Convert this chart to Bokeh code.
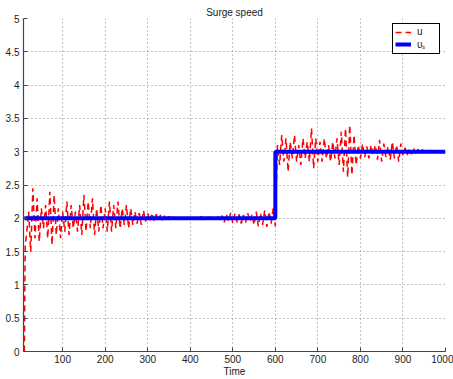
from bokeh.plotting import figure
from bokeh.models import Range1d, FixedTicker, Legend, LegendItem
from bokeh.embed import file_html
from bokeh.resources import INLINE

# ---- data ----
time = [10, 12] + list(range(15, 1001, 5))
u = [
    0.00, 1.60,
    # 15..100
    1.75, 2.10, 1.50, 2.45, 1.70, 2.30, 1.65, 2.15, 1.85, 2.20,
    1.70, 2.40, 1.60, 2.35, 1.75, 2.15, 1.70, 2.10,
    # 105..200
    1.80, 2.25, 1.75, 2.20, 1.85, 2.10, 1.80, 2.20, 1.75, 2.35,
    1.80, 2.25, 1.85, 2.30, 1.75, 2.15, 1.80, 2.20, 1.85, 2.15,
    # 205..300
    1.80, 2.25, 1.80, 2.20, 1.85, 2.25, 1.85, 2.15, 1.90, 2.20,
    1.85, 2.15, 1.90, 2.10, 1.92, 2.08, 1.90, 2.12, 1.95, 2.08,
    # 305..400
    1.95, 2.08, 1.96, 2.06, 1.97, 2.05, 1.97, 2.04, 1.98, 2.03,
    1.99, 2.02, 1.99, 2.01, 2.00, 2.01, 2.00, 2.00, 2.00, 2.00,
    # 405..500
    2.00, 2.00, 2.00, 2.00, 2.03, 1.98, 2.02, 1.98, 2.02, 2.00,
    2.01, 1.99, 2.02, 1.97, 2.04, 1.94, 2.06, 1.95, 2.08, 1.93,
    # 505..600
    2.07, 1.94, 2.06, 1.92, 2.05, 1.93, 2.08, 1.95, 2.06, 1.90,
    2.10, 1.88, 2.08, 1.90, 2.12, 1.87, 2.10, 1.92, 2.15, 1.88,
    # 605..700
    3.10, 2.80, 3.25, 2.85, 3.20, 2.70, 3.15, 2.90, 3.25, 2.85,
    3.10, 2.80, 3.20, 2.90, 3.15, 2.85, 3.35, 2.75, 3.20, 2.85,
    # 705..800
    3.15, 2.85, 3.20, 2.90, 3.10, 2.85, 3.15, 2.90, 3.20, 2.80,
    3.30, 2.70, 3.35, 2.62, 3.40, 2.65, 3.25, 2.80, 3.10, 2.90,
    # 805..900
    3.12, 2.92, 3.08, 2.90, 3.10, 2.95, 3.10, 2.88, 3.18, 2.85,
    3.12, 2.92, 3.08, 2.88, 3.15, 2.90, 3.10, 2.85, 3.12, 2.95,
    # 905..1000
    3.06, 2.95, 3.05, 2.96, 3.05, 2.97, 3.04, 2.98, 3.04, 2.98,
    3.02, 2.99, 3.02, 3.00, 3.01, 3.00, 3.01, 3.00, 3.01, 3.00,
]
vs_time = [10, 600, 600, 1000]
vs = [2, 2, 3, 3]
x_ticks = [100, 200, 300, 400, 500, 600, 700, 800, 900, 1000]
y_ticks = [0, 0.5, 1, 1.5, 2, 2.5, 3, 3.5, 4, 4.5, 5]

FONT = "Liberation Sans"

p = figure(width=453, height=379, output_backend="svg", toolbar_location=None,
           x_range=Range1d(8, 1000), y_range=Range1d(0, 5),
           title="Surge speed",
           min_border_left=23, min_border_right=8,
           min_border_top=18, min_border_bottom=28)

p.title.align = "center"
p.title.text_font = FONT
p.title.text_font_size = "10px"
p.title.text_font_style = "normal"
p.title.text_color = "#222222"
p.title.standoff = 1
p.title.offset = 0
p.outline_line_color = None
p.background_fill_color = "white"

p.xaxis.ticker = FixedTicker(ticks=x_ticks)
p.yaxis.ticker = FixedTicker(ticks=y_ticks)
for ax in (p.xaxis, p.yaxis):
    ax.major_tick_in = 4
    ax.major_tick_out = 0
    ax.minor_tick_in = 0
    ax.minor_tick_out = 0
    ax.major_label_text_font = FONT
    ax.major_label_text_font_size = "10px"
    ax.major_label_text_color = "#222222"
    ax.axis_line_color = "#444444"
    ax.axis_line_width = 1.2
    ax.major_tick_line_color = "#444444"
p.xaxis.major_label_standoff = 3
p.yaxis.major_label_standoff = 4
p.xaxis.axis_label = "Time"
p.xaxis.axis_label_text_font = FONT
p.xaxis.axis_label_text_font_size = "10px"
p.xaxis.axis_label_text_font_style = "normal"
p.xaxis.axis_label_text_color = "#222222"
p.xaxis.axis_label_standoff = 0

p.grid.grid_line_color = "#808080"
p.grid.grid_line_dash = "1 3"
p.grid.grid_line_width = 1

r_u = p.line(time, u, line_color="#ff0000", line_width=1.5, line_dash="6 4")
r_vs = p.line(vs_time, vs, line_color="#0000ff", line_width=4)

legend = Legend(items=[LegendItem(label="u", renderers=[r_u]),
                       LegendItem(label="υₛ", renderers=[r_vs])],
                location="top_right")
legend.border_line_color = "black"
legend.border_line_alpha = 1.0
legend.border_line_width = 1.5
legend.background_fill_alpha = 1.0
legend.label_text_font = FONT
legend.label_text_font_size = "10px"
legend.label_text_color = "#222222"
legend.glyph_width = 16
legend.glyph_height = 8
legend.label_height = 8
legend.spacing = 0
legend.padding = 2
legend.margin = 5
legend.label_standoff = 6
p.add_layout(legend)

open("out.html", "w").write(file_html(p, INLINE))
